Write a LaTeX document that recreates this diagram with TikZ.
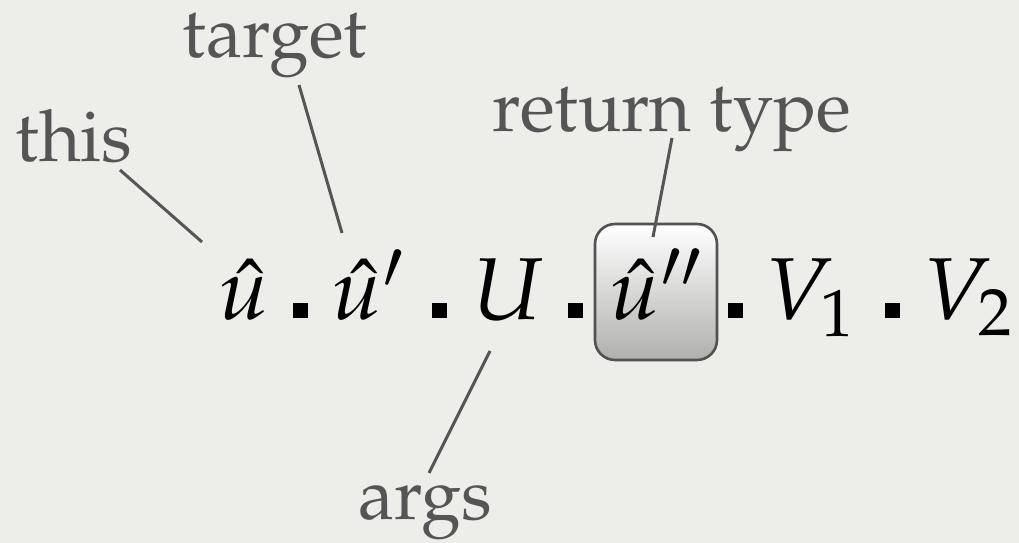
\documentclass[tikz,border=0pt]{standalone}
\usepackage[T1]{fontenc}
\usepackage{mathpazo}
\usetikzlibrary{calc}

\definecolor{paper}{RGB}{237,237,234}
\definecolor{ink}{RGB}{85,85,85}
\definecolor{boxedge}{RGB}{82,82,82}
\definecolor{boxshade}{RGB}{176,176,174}

\begin{document}
\begin{tikzpicture}[x=0.02cm, y=-0.02cm,
  every node/.style={inner sep=0pt, outer sep=0pt},
  lbl/.style={anchor=base, text=ink, font=\fontsize{41}{49}\selectfont},
  sym/.style={anchor=base, font=\fontsize{50}{60}\selectfont},
  joint/.style={fill=black, minimum size=0.3cm},
  leader/.style={draw=ink, line width=1.7pt},
  retbox/.style={draw=boxedge, line width=1.5pt, rounded corners=0.4cm,
    top color=white, bottom color=boxshade,
    minimum width=2.44cm, minimum height=2.72cm,
    text height=1.4cm, text depth=0.3cm, font=\fontsize{50}{60}\selectfont}]

  % Page
  \useasboundingbox (0,0) rectangle (1019,543);
  \fill[paper] (0,0) rectangle (1019,543);

  % Selector chain
  \node[sym] (uhat) at (244,320) {$\hat{u}$};
  \node[joint] (d1) at (300.5,310.5) {};
  \node[sym] (uprime) at (368,320) {$\hat{u}'$};
  \node[joint] (d2) at (439.5,310.5) {};
  \node[sym] (argU) at (509,320) {$U$};
  \node[joint] (d3) at (575.5,310.5) {};
  \node[retbox] (utwo) at (656,292) {$\hat{u}''$};
  \node[joint] (d4) at (735.5,310.5) {};
  \node[sym] (vone) at (810,320) {$V_1$};
  \node[joint] (d5) at (892.5,310.5) {};
  \node[sym] (vtwo) at (968,320) {$V_2$};

  % Labels
  \node[lbl] (this) at (74,162) {this};
  \node[lbl] (target) at (275,58) {target};
  \node[lbl] (rettype) at (672,132) {return type};
  \node[lbl] (args) at (425,520) {args};

  % Leader lines
  \draw[leader] ([shift={(46,8)}]this.base) -- ([shift={(-42,-78)}]uhat.base);
  \draw[leader] ([shift={(24,27)}]target.base) -- ([shift={(-26,-87)}]uprime.base);
  \draw[leader] ([shift={(0,6)}]rettype.base) -- ([shift={(-3,13)}]utwo.north);
  \draw[leader] ([shift={(4,-47)}]args.base) -- ([shift={(-19,31)}]argU.base);
\end{tikzpicture}
\end{document}
